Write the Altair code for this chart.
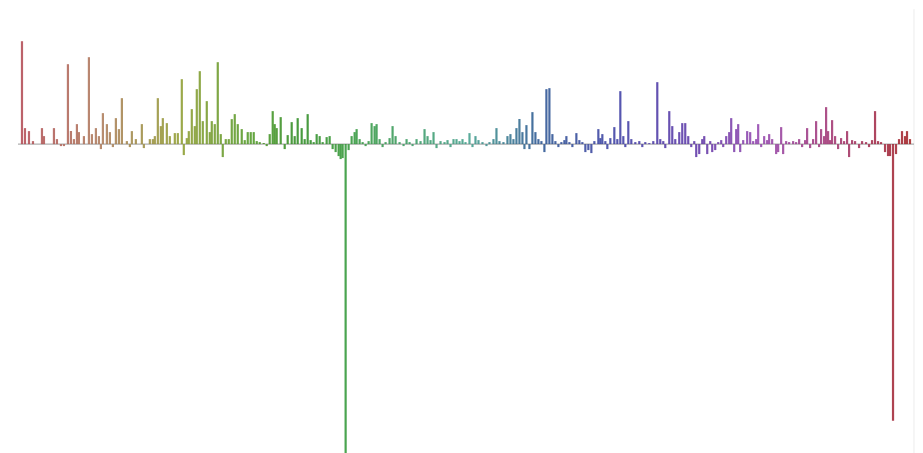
import altair as alt
import pandas as pd

# sequence index along the track and signed score at that index
index = [22,25,29,33,42,44,54,57,61,64,68,71,74,77,79,84,89,92,96,99,101,103,107,110,113,116,119,122,127,130,
         132,136,142,144,150,153,155,158,161,163,167,170,175,178,182,184,187,189,192,195,197,200,203,207,210,212,215,218,221,223,
         226,229,232,235,238,242,245,248,251,254,257,260,264,267,270,273,275,277,281,285,288,292,295,298,302,305,308,311,314,317,
         320,323,327,330,333,336,339,341,343,346,349,352,355,357,360,363,366,369,372,375,377,380,383,386,390,393,396,400,404,407,
         410,413,417,421,425,428,431,434,437,441,445,448,451,454,457,460,463,466,470,473,476,479,483,487,490,494,497,500,504,508,
         511,514,517,520,523,525,527,530,533,536,539,542,545,547,550,553,556,559,562,565,567,570,573,577,580,583,586,589,592,595,
         599,601,603,606,608,611,615,618,621,624,626,629,632,636,640,643,646,650,654,658,661,664,666,670,673,676,680,683,686,689,
         692,695,697,700,703,705,708,711,713,716,719,722,724,727,730,732,735,737,739,741,744,748,751,754,757,759,762,765,768,770,
         773,777,779,782,784,787,790,794,797,800,803,806,808,811,814,817,820,822,825,827,829,831,833,836,839,842,845,848,850,853,
         856,860,863,867,870,873,876,879,882,886,889,891,894,897,900,903,906,908,911]
score = [103,16,13,3,16,8,16,5,-2,-2,80,13,5,20,12,8,87,10,16,8,-5,31,20,12,-3,26,15,46,3,-3,
         13,5,20,-4,5,5,8,46,18,26,21,8,11,11,65,-11,6,13,35,18,55,73,23,43,12,23,20,82,10,-13,
         5,5,25,30,20,15,4,12,12,12,3,2,1,-2,10,33,20,16,27,-5,9,22,8,26,16,5,30,4,2,10,
         8,2,7,8,-5,-8,-12,-15,-14,-310,-6,8,12,15,5,2,-2,3,21,18,20,5,-3,2,6,18,8,2,-2,5,
         2,-2,5,3,15,8,4,12,-4,3,2,4,-3,5,5,3,5,2,11,-3,8,4,2,-2,2,5,16,3,2,8,
         10,5,16,25,12,-5,19,-5,32,12,5,3,-8,55,56,10,3,-3,2,4,8,2,-3,11,4,2,-8,-6,-9,3,
         15,6,10,3,-5,6,17,5,53,8,-3,23,5,2,3,-3,2,1,3,62,5,3,-4,33,18,5,12,21,21,8,
         -3,3,-13,-10,5,8,-10,3,-8,-6,2,4,-3,8,12,26,-8,15,20,-8,4,13,12,3,5,20,-3,8,4,10,
         5,-10,-8,17,-10,3,2,3,2,5,-3,4,16,-4,5,23,-3,15,8,37,13,4,24,8,-5,6,3,13,-13,4,
         3,-4,3,2,-3,4,33,3,2,-8,-12,-12,-277,-10,5,13,8,13,5]

df = pd.DataFrame({"index": index, "score": score})
track = pd.DataFrame({"start": [18], "end": [915], "zero": [0]})

x_scale = alt.Scale(domain=[8, 915], nice=False, zero=False, padding=0)
y_scale = alt.Scale(domain=[-310, 135], nice=False, padding=0)

hue_stops = [22, 100, 180, 250, 300, 345, 470, 540, 620, 700, 760, 830, 900]
hue_colors = ["#b04650", "#ac7858", "#8c9a2a", "#4c9620", "#28881c", "#2c9430", "#3c9c88",
              "#24508e", "#3838a2", "#5a30a4", "#9040ac", "#a03272", "#a0202c"]

bars = alt.Chart(df).mark_bar(size=2.2, opacity=0.85).encode(
    x=alt.X("index:Q", scale=x_scale, axis=None),
    y=alt.Y("score:Q", scale=y_scale, axis=None),
    color=alt.Color("index:Q", scale=alt.Scale(domain=hue_stops, range=hue_colors, interpolate="rgb"), legend=None),
)

baseline = alt.Chart(track).mark_rule(color="#9a9a9a", strokeWidth=1).encode(
    x=alt.X("start:Q", scale=x_scale, axis=None),
    x2="end:Q",
    y=alt.Y("zero:Q", scale=y_scale, axis=None),
)

edge = alt.Chart(track).mark_rule(color="#ececec", strokeWidth=1).encode(
    x=alt.X("end:Q", scale=x_scale, axis=None),
)

chart = alt.layer(edge, baseline, bars).properties(
    width=907, height=445, padding=0
).configure_view(stroke=None)

chart.save("out.html", embed_options={"renderer": "svg", "actions": False})
